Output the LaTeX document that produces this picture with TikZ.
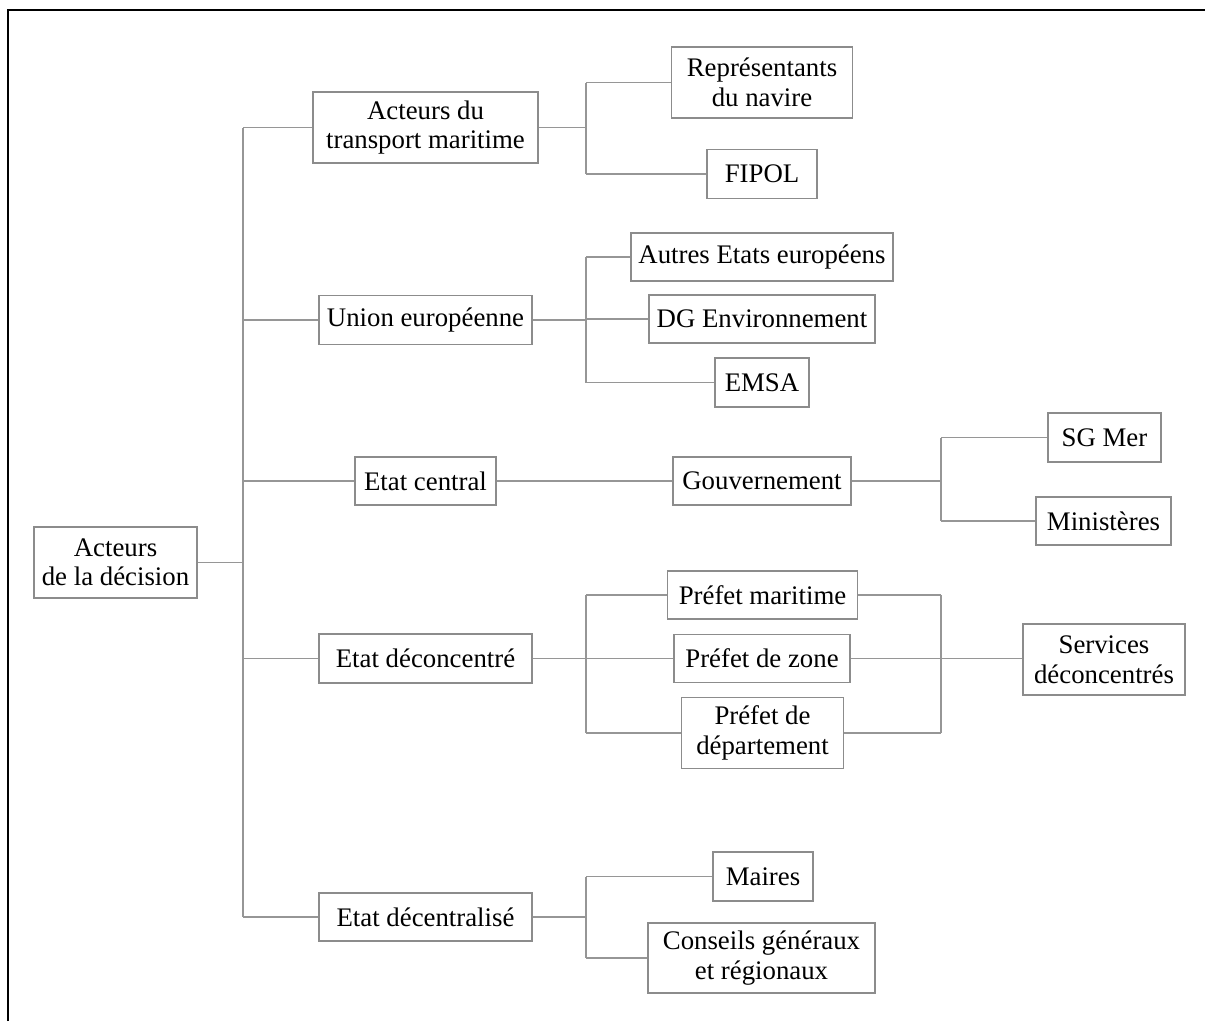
\documentclass[tikz,border=0pt]{standalone}
\usepackage{fontspec}
\setmainfont{Liberation Serif}
\definecolor{ln}{RGB}{150,150,150}
\definecolor{bx}{RGB}{140,140,140}
\tikzset{
  box/.style={draw=bx, line width=1.3pt, inner sep=0pt, align=center,
    font=\fontsize{26.8}{29.5}\selectfont},
  conn/.style={draw=ln, line width=1.2pt},
  frameline/.style={draw=black, line width=1.6pt}
}
\newcommand{\bxn}[7]{\node[box, minimum width=#4pt, minimum height=#5pt] (#1) at (#2,#3) {#6};}
\begin{document}
\begin{tikzpicture}[x=1pt,y=-1pt]
\useasboundingbox (0,0) rectangle (1205,1021);
\draw[frameline] (8,1021) -- (8,10) -- (1205,10);
% root
\bxn{root}{115.5}{562.5}{163}{71}{Acteurs\\de la décision}{}
% level 1
\bxn{A1}{425.5}{127.5}{225}{71}{Acteurs du\\transport maritime}{}
\bxn{A2}{425.5}{320}{213}{49}{Union européenne}{}
\bxn{A3}{425.5}{481}{141}{48}{Etat central}{}
\bxn{A4}{425.5}{658.5}{213}{49}{Etat déconcentré}{}
\bxn{A5}{425.5}{917}{213}{48}{Etat décentralisé}{}
% level 2
\bxn{B1}{762}{82.5}{181}{71}{Représentants\\du navire}{}
\bxn{B2}{762}{174}{110}{49}{FIPOL}{}
\bxn{B3}{762}{257}{262}{48}{Autres Etats européens}{}
\bxn{B4}{762}{319}{226}{48}{DG Environnement}{}
\bxn{B5}{762}{382.5}{94}{49}{EMSA}{}
\bxn{B6}{762}{481}{178}{48}{Gouvernement}{}
\bxn{B7}{762.5}{595}{190}{48}{Préfet maritime}{}
\bxn{B8}{762}{658.5}{176}{48}{Préfet de zone}{}
\bxn{B9}{762.5}{733}{162}{71}{Préfet de\\département}{}
\bxn{B10}{763}{876.5}{100}{49}{Maires}{}
\bxn{B11}{761.5}{958}{227}{70}{Conseils généraux\\et régionaux}{}
% level 3
\bxn{C1}{1104.5}{437.5}{113}{49}{SG Mer}{}
\bxn{C2}{1103.5}{521}{135}{48}{Ministères}{}
\bxn{C3}{1104}{659.5}{162}{71}{Services\\déconcentrés}{}
% junction coordinates
\coordinate (tr) at (243,0);
\coordinate (br) at (586,0);
\coordinate (bs) at (941,0);
% trunk
\draw[conn] (root.east) -- (tr |- root);
\draw[conn] (tr |- A1) -- (tr |- A5);
\foreach \n in {A1,A2,A3,A4,A5} \draw[conn] (tr |- \n) -- (\n.west);
% transport
\draw[conn] (A1.east) -- (br |- A1);
\draw[conn] (br |- B1) -- (br |- B2);
\foreach \n in {B1,B2} \draw[conn] (br |- \n) -- (\n.west);
% union
\draw[conn] (A2.east) -- (br |- A2);
\draw[conn] (br |- B3) -- (br |- B5);
\foreach \n in {B3,B4,B5} \draw[conn] (br |- \n) -- (\n.west);
% central
\draw[conn] (A3.east) -- (B6.west);
\draw[conn] (B6.east) -- (bs |- B6);
\draw[conn] (bs |- C1) -- (bs |- C2);
\foreach \n in {C1,C2} \draw[conn] (bs |- \n) -- (\n.west);
% deconcentre
\draw[conn] (A4.east) -- (br |- A4);
\draw[conn] (br |- B7) -- (br |- B9);
\foreach \n in {B7,B8,B9} \draw[conn] (br |- \n) -- (\n.west);
\draw[conn] (bs |- B7) -- (bs |- B9);
\foreach \n in {B7,B8,B9} \draw[conn] (\n.east) -- (bs |- \n);
\draw[conn] (bs |- B8) -- (C3.west |- B8);
% decentralise
\draw[conn] (A5.east) -- (br |- A5);
\draw[conn] (br |- B10) -- (br |- B11);
\foreach \n in {B10,B11} \draw[conn] (br |- \n) -- (\n.west);
\end{tikzpicture}
\end{document}
